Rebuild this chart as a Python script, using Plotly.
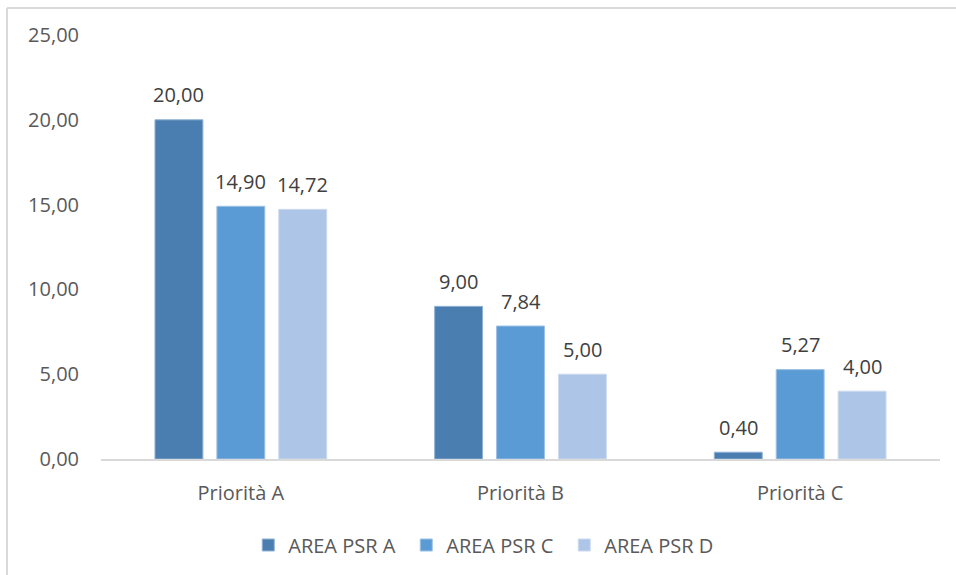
import plotly.graph_objects as go

categories = ["Priorità A", "Priorità B", "Priorità C"]
series_names = ["AREA PSR A", "AREA PSR C", "AREA PSR D"]
values_psr_a = [20.00, 9.00, 0.40]
values_psr_c = [14.90, 7.84, 5.27]
values_psr_d = [14.72, 5.00, 4.00]
y_ticks = [0, 5, 10, 15, 20, 25]

series_values = [values_psr_a, values_psr_c, values_psr_d]
colors = ["#4A7EB0", "#5B9BD5", "#ADC5E6"]
outline = ["#8FB1D3", "#9CC1E6", "#CCDAEE"]

W, H = 956, 575
ML, MR, MT, MB = 101, 16, 35, 115
plot_w = W - ML - MR
plot_h = H - MT - MB
BARGAP, GROUPGAP = 0.336, 0.226
FONT = "Open Sans"

fig = go.Figure()
for name, vals, col, oc in zip(series_names, series_values, colors, outline):
    fig.add_trace(go.Bar(
        x=categories, y=vals, name=name,
        marker=dict(color=col, line=dict(color=oc, width=1)),
    ))

# value labels above each bar, offset to the bar's slot within its group
cat_w = plot_w / len(categories)
slot_w = cat_w * (1 - BARGAP) / len(series_values)
for i, vals in enumerate(series_values):
    offset = (i - (len(series_values) - 1) / 2) * slot_w
    for cat, v in zip(categories, vals):
        fig.add_annotation(
            x=cat, y=v, xref="x", yref="y",
            text=f"{v:.2f}".replace(".", ","),
            showarrow=False, xshift=offset, yshift=25, yanchor="middle",
            font=dict(family=FONT, size=20, color="#404040"),
        )

# thin frame along the top and left edges of the chart area
fx0 = (7 - ML) / plot_w
fy_top = 1 + (MT - 8) / plot_h
fig.add_shape(type="line", xref="paper", yref="paper",
              x0=fx0, x1=(W + 5 - ML) / plot_w, y0=fy_top, y1=fy_top,
              line=dict(color="#D9D9D9", width=2))
fig.add_shape(type="line", xref="paper", yref="paper",
              x0=fx0, x1=fx0, y0=fy_top, y1=-(MB + 5) / plot_h,
              line=dict(color="#D9D9D9", width=2))

fig.update_layout(
    width=W, height=H,
    margin=dict(l=ML, r=MR, t=MT, b=MB),
    paper_bgcolor="white", plot_bgcolor="white",
    separators=",.",
    barmode="group", bargap=BARGAP, bargroupgap=GROUPGAP,
    font=dict(family=FONT, size=20, color="#595959"),
    showlegend=True,
    legend=dict(orientation="h", x=0.458, xanchor="center", y=-0.2, yanchor="middle",
                font=dict(family=FONT, size=20, color="#595959"),
                itemwidth=30, entrywidth=113, traceorder="normal"),
    xaxis=dict(showline=True, linecolor="#D9D9D9", linewidth=2, ticks="",
               ticklabelstandoff=15, tickfont=dict(family=FONT, size=20, color="#595959")),
    yaxis=dict(range=[0, 25], tickvals=y_ticks, tickformat=".2f", showgrid=False,
               zeroline=False, showline=False, ticks="", ticklabelstandoff=21,
               tickfont=dict(family=FONT, size=20, color="#595959")),
)

fig.write_html("out.html")
